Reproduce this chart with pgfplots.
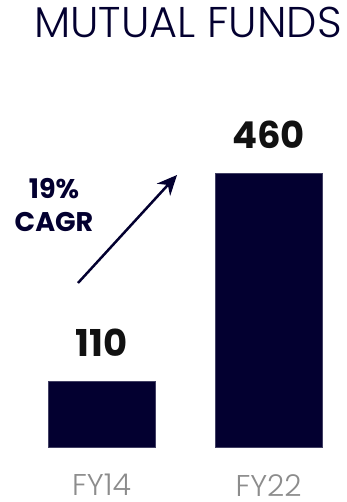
\documentclass[border=0pt]{standalone}
\usepackage{fontspec}
\setmainfont{Poppins}
\newfontfamily\lightfont{Poppins Light}
\usepackage{pgfplots}
\pgfplotsset{compat=1.18}
\usetikzlibrary{arrows.meta}
\definecolor{navy}{RGB}{3,0,48}
\definecolor{tickgray}{RGB}{140,140,140}
\definecolor{numblack}{RGB}{17,17,17}
\begin{document}
\begin{tikzpicture}
\begin{axis}[
  scale only axis, width=346pt, height=447pt,
  xmin=-0.608, xmax=1.464, ymin=0, ymax=751,
  /pgf/number format/assume math mode=true,
  axis line style={draw=none}, tick style={draw=none},
  ytick=\empty, xtick=data, xticklabels={FY14,FY22},
  xticklabel style={anchor=north, inner sep=0pt, yshift=-23pt, text=tickgray, font=\lightfont\fontsize{30}{30}\selectfont},
  ybar, bar width=107pt,
  nodes near coords,
  every node near coord/.append style={anchor=base, inner sep=0pt, yshift=25pt, text=numblack, font=\bfseries\fontsize{37}{37}\selectfont},
  clip=false,
]
\addplot[fill=navy, draw=navy!75] coordinates {(0,110) (1,460)};
\coordinate (bl) at (rel axis cs:0,0);
\coordinate (tr) at (rel axis cs:1,1);
\coordinate (ttl) at (rel axis cs:0.5434,0.9150);
\coordinate (pct) at (rel axis cs:0.1561,0.5570);
\coordinate (cagr) at (rel axis cs:0.1561,0.4810);
\coordinate (a1) at (rel axis cs:0.2254,0.3669);
\coordinate (a2) at (rel axis cs:0.5116,0.6085);
\end{axis}
\node[anchor=base, text=navy] at (ttl) {\lightfont\fontsize{43}{43}\selectfont MUTUAL FUNDS};
\node[anchor=base, text=navy, font=\bfseries\fontsize{27}{27}\selectfont] at (pct) {19\%};
\node[anchor=base, text=navy, font=\bfseries\fontsize{27}{27}\selectfont] at (cagr) {CAGR};
\draw[navy, line width=2.5pt, -{Stealth[length=20pt,width=18pt]}] (a1) -- (a2);
\pgfresetboundingbox
\path ([yshift=-55pt]bl) rectangle (tr);
\end{tikzpicture}
\end{document}
